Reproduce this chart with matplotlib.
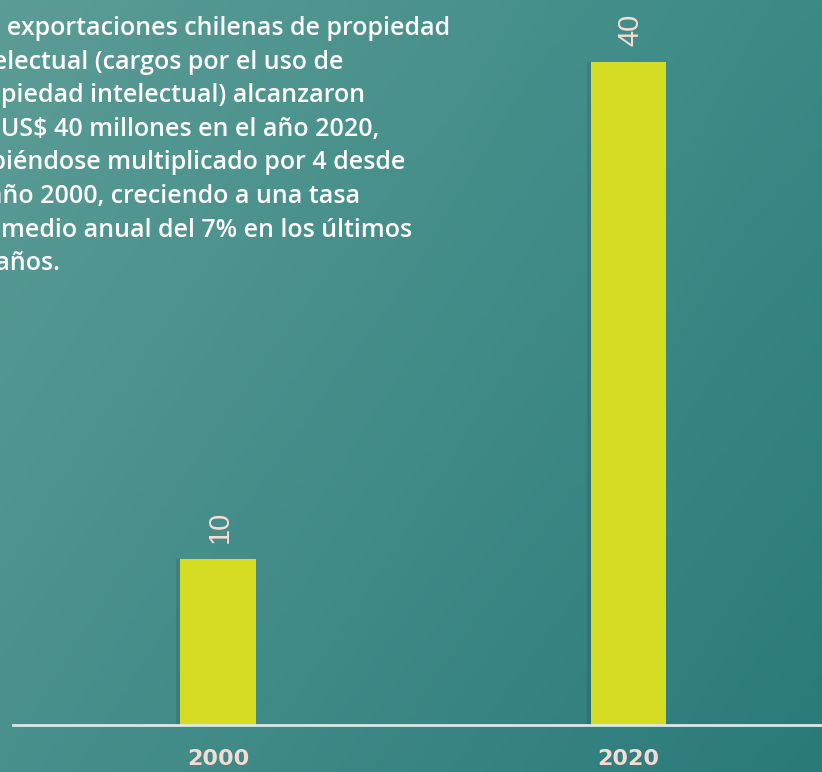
import matplotlib.pyplot as plt
import numpy as np

years = ["2000", "2020"]
values = [10, 40]
note_lines = [
    "Las exportaciones chilenas de propiedad",
    "intelectual (cargos por el uso de",
    "propiedad intelectual) alcanzaron",
    "los US$ 40 millones en el año 2020,",
    "habiéndose multiplicado por 4 desde",
    "el año 2000, creciendo a una tasa",
    "promedio anual del 7% en los últimos",
    "20 años.",
]

W, H = 822, 772
fig = plt.figure(figsize=(W / 100, H / 100), dpi=100)

# teal backdrop, lighter towards the top-left
bg = fig.add_axes([0, 0, 1, 1])
tl = np.array([0x5c, 0x9c, 0x96]) / 255
tr = np.array([0x3b, 0x8a, 0x86]) / 255
bl = np.array([0x48, 0x90, 0x8c]) / 255
br = np.array([0x2a, 0x7a, 0x7a]) / 255
u = np.linspace(0, 1, 200)[None, :, None]
v = np.linspace(0, 1, 200)[:, None, None]
grad = (1 - v) * ((1 - u) * tl + u * tr) + v * ((1 - u) * bl + u * br)
bg.imshow(grad, aspect="auto", extent=[0, 1, 0, 1], origin="upper")
bg.axis("off")

# plot area: baseline at y=725px, starts at x=13px
left, base = 13 / W, 47 / H
ax = fig.add_axes([left, base, 1 - left, 1 - base])
ax.patch.set_alpha(0)
x = np.arange(len(years))
ax.set_xlim(-0.5, (W - 218) / 410.5)
ax.set_ylim(0, 725 / 16.57)

# soft shadow on the left edge of each bar
ax.bar(x - 0.01, values, width=0.184, color="black", alpha=0.10, zorder=1)
ax.bar(x, values, width=0.184, color="#d6dc24", zorder=2)

for xi, val in zip(x, values):
    ax.annotate(str(val), (xi, val), xytext=(1, 12), textcoords="offset points",
                rotation=90, ha="center", va="bottom", color="#f8dcd3",
                fontsize=21, family="Liberation Sans")

for s in ["top", "right", "left"]:
    ax.spines[s].set_visible(False)
ax.spines["bottom"].set_color("#dde8e6")
ax.spines["bottom"].set_linewidth(2)
ax.set_yticks([])
ax.set_xticks(x)
ax.set_xticklabels(years, fontsize=16, fontweight="bold", color="#f3dcd4")
ax.tick_params(axis="x", length=0, pad=17)

# paragraph runs off the left edge of the figure
for i, line in enumerate(note_lines):
    fig.text(-40 / W, 1 - (35 + i * 33.6) / H, line, ha="left", va="baseline",
             color="white", fontsize=18, family="Open Sans",
             fontweight="semibold")

fig.savefig("out.png", dpi=100)
